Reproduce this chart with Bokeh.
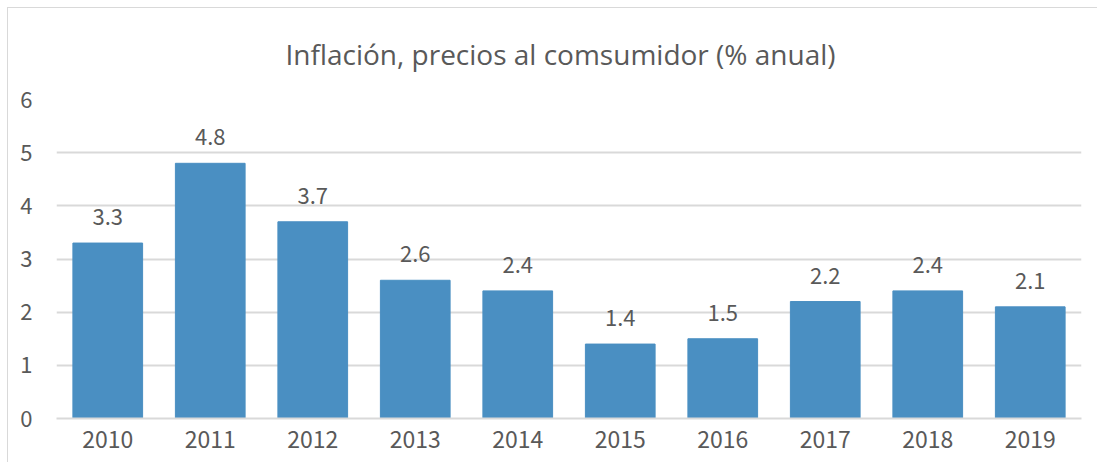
from bokeh.plotting import figure
from bokeh.models import ColumnDataSource
from bokeh.core.properties import value
from bokeh.embed import file_html
from bokeh.resources import INLINE

years = ["2010", "2011", "2012", "2013", "2014", "2015", "2016", "2017", "2018", "2019"]
inflation = [3.3, 4.8, 3.7, 2.6, 2.4, 1.4, 1.5, 2.2, 2.4, 2.1]
y_ticks = [0, 1, 2, 3, 4, 5, 6]
title_text = "Inflación, precios al comsumidor (% anual)"

TEXT = "#595959"
GRID = "#d9d9d9"
BAR = "#4a8fc2"

src = ColumnDataSource(dict(x=years, y=inflation, lab=[f"{v:.1f}" for v in inflation]))

p = figure(x_range=years, y_range=(0, 6), width=1090, height=455,
           output_backend="svg", toolbar_location=None, title=title_text,
           min_border_left=48, min_border_right=17, min_border_top=91, min_border_bottom=45)
p.margin = (7, 0, 0, 7)
p.styles = {"border-top": "1px solid #d9d9d9", "border-left": "1px solid #d9d9d9"}
p.outline_line_color = None
p.x_range.range_padding = 0

p.title.align = "left"
p.title.vertical_align = "top"
p.title.offset = 229
p.title.standoff = 50
p.title.text_color = TEXT
p.title.text_font = "Open Sans"
p.title.text_font_style = "normal"
p.title.text_font_size = "28px"

p.vbar(x="x", top="y", width=0.68, source=src, fill_color=BAR, line_color=BAR)
p.text(x="x", y="y", text="lab", source=src, y_offset=-26,
       text_align="center", text_baseline="middle", text_color=TEXT,
       text_font=value("Noto Sans CJK SC"), text_font_size="22px")

p.yaxis.ticker = y_ticks
p.ygrid.grid_line_color = GRID
p.ygrid.grid_line_width = 2
p.xgrid.grid_line_color = None
for ax in (p.xaxis[0], p.yaxis[0]):
    ax.axis_line_color = None
    ax.major_tick_line_color = None
    ax.minor_tick_line_color = None
    ax.major_label_text_color = TEXT
    ax.major_label_text_font = "Noto Sans CJK SC"
p.xaxis.axis_line_color = GRID
p.xaxis.axis_line_width = 2
p.xaxis.major_label_text_font_size = "23px"
p.xaxis.major_label_standoff = 6
p.yaxis.major_label_text_font_size = "22px"
p.yaxis.major_label_standoff = 18

open("out.html", "w").write(file_html(p, INLINE))
